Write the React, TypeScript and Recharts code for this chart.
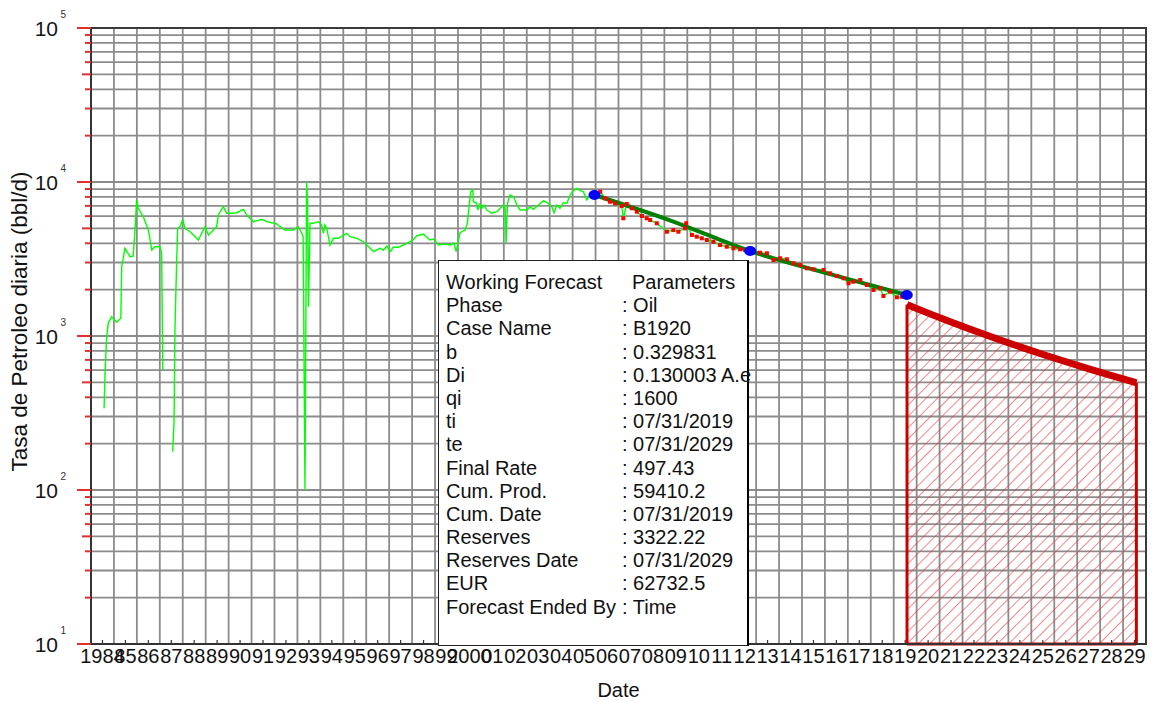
import React from "react";
import {
  ComposedChart,
  XAxis,
  YAxis,
  CartesianGrid,
  Line,
  Area,
  Scatter,
  ReferenceLine,
  ReferenceArea,
} from "recharts";

const FONT = "'Liberation Sans', Arial, sans-serif";

// ---------- axis ticks ----------
const yearTicks = [
  1984, 1985, 1986, 1987, 1988, 1989, 1990, 1991, 1992, 1993, 1994, 1995, 1996, 1997, 1998, 1999,
  2000, 2001, 2002, 2003, 2004, 2005, 2006, 2007, 2008, 2009, 2010, 2011, 2012, 2013, 2014, 2015,
  2016, 2017, 2018, 2019, 2020, 2021, 2022, 2023, 2024, 2025, 2026, 2027, 2028, 2029,
];
const halfYearTicks = yearTicks.map((y) => y + 0.5);
const decades = [10, 100, 1000, 10000];
const multipliers = [1, 2, 3, 4, 5, 6, 7, 8, 9];
const yTicks = [...decades.flatMap((d) => multipliers.map((m) => d * m)), 100000];
const X_MIN = 1984;
const X_MAX = 2030;
const Y_MIN = 10;
const Y_MAX = 100000;

// ---------- historical production (green line) ----------
const histYears = [
  1984.57, 1984.62, 1984.68, 1984.75, 1984.9, 1985.12, 1985.3, 1985.34, 1985.48, 1985.7, 1985.84,
  1985.92, 1985.99, 1986.06, 1986.28, 1986.5, 1986.65, 1986.79, 1987.01, 1987.08, 1987.13, 1987.3,
  1987.56, 1987.62, 1987.66, 1987.74, 1987.78, 1987.88, 1988.0, 1988.1, 1988.32, 1988.68, 1988.97,
  1989.12, 1989.26, 1989.48, 1989.55, 1989.77, 1989.92, 1990.14, 1990.35, 1990.64, 1990.79, 1991.08,
  1991.44, 1991.66, 1991.88, 1992.1, 1992.24, 1992.46, 1992.82, 1993.04, 1993.19, 1993.25, 1993.33,
  1993.4, 1993.44, 1993.48, 1993.55, 1993.7, 1993.91, 1994.06, 1994.13, 1994.2, 1994.28, 1994.42,
  1994.57, 1994.78, 1995.15, 1995.3, 1995.59, 1995.88, 1996.17, 1996.31, 1996.6, 1996.75, 1996.9,
  1997.04, 1997.18, 1997.4, 1997.62, 1997.91, 1998.06, 1998.2, 1998.49, 1998.64, 1998.78, 1998.93,
  1999.15, 1999.44, 1999.66, 1999.83, 1999.92, 1999.97, 2000.09, 2000.31, 2000.41, 2000.5, 2000.56,
  2000.65, 2000.67, 2000.82, 2000.86, 2000.96, 2001.04, 2001.14, 2001.26, 2001.47, 2001.69, 2001.84,
  2001.98, 2002.06, 2002.1, 2002.16, 2002.27, 2002.42, 2002.57, 2002.71, 2003.0, 2003.15, 2003.29,
  2003.51, 2003.73, 2003.94, 2004.09, 2004.19, 2004.31, 2004.45, 2004.6, 2004.75, 2004.89, 2005.03,
  2005.18, 2005.33, 2005.47, 2005.62, 2005.76, 2005.95,
];
const histRates: (number | null)[] = [
  339, 617, 966, 1209, 1334, 1227, 1303, 2818, 3711, 3273, 3300,
  4879, 7639, 6748, 5953, 4879, 3617, 3801, 3801, 3443, 601, null,
  177, 271, 1094, 3273, 5005, 5125, 5665, 5005, 4756, 4201, 5125,
  4528, 4756, 5125, 6106, 6914, 6264, 6264, 6319, 6648, 6106, 5524,
  5727, 5524, 5442, 5338, 5125, 4879, 4879, 5125, 4645, 4400, 100,
  10000, 7639, 1550, 5394, 5394, 5524, 5257, 4645, 5257, 5005, 3898,
  4309, 4309, 4645, 4414, 4309, 4095, 3711, 3527, 3711, 3617, 3841,
  3527, 3767, 3767, 3898, 4095, 4245, 4461, 4595, 4375, 4201, 4265,
  3898, 3957, 3898, 3998, 3527, 3801, 4687, 4879, 5394, 7272, 8650,
  8873, 7448, 7272, 6580, 7196, 6748, 7090, 6580, 6264, 6414, 6748,
  7090, 6748, 3998, 7272, 8234, 8026, 7090, 6580, 6580, 6914, 6648,
  7090, 7561, 7272, 6914, 6319, 7090, 6748, 7339, 7272, 8234, 8780,
  9102, 8780, 8650, 7639, 8234, 8234,
];

// ---------- production points used in the decline fit (red squares) ----------
const fitPtYears = [
  2006.2, 2006.42, 2006.63, 2006.85, 2007.14, 2007.21, 2007.36, 2007.58, 2007.8, 2008.02, 2008.23,
  2008.38, 2008.67, 2009.11, 2009.39, 2009.61, 2009.9, 2009.95, 2010.2, 2010.41, 2010.63, 2010.85,
  2011.14, 2011.43, 2011.72, 2012.01, 2012.3, 2012.52, 2012.9, 2013.17, 2013.47, 2013.76, 2014.05,
  2014.34, 2014.63, 2014.92, 2015.21, 2015.5, 2015.94, 2016.23, 2016.52, 2016.81, 2017.03, 2017.24,
  2017.54, 2017.83, 2018.12, 2018.41, 2018.55, 2018.84, 2019.14, 2019.36,
];
const fitPtRates = [
  8650, 7838, 7448, 7272, 6987, 5812, 7196, 6748, 6414, 6015, 5812,
  5665, 5394, 4756, 4879, 4756, 5005, 5394, 4528, 4414, 4309, 4201,
  4095, 3898, 3801, 3711, 3656, 3617, 3560, 3474, 3443, 3115, 3195,
  3148, 2966, 2891, 2752, 2711, 2683, 2553, 2453, 2370, 2199, 2253,
  2310, 2144, 1990, 2040, 1818, 1940, 1784, 1800,
];

// ---------- decline fit line (dark green) and its anchor points (blue) ----------
const fitYears = [2005.95, 2009.3, 2012.74, 2016.1, 2019.57];
const fitRates = [8234, 5600, 3565, 2553, 1846];
const anchorYears = [2005.95, 2012.74, 2019.57];
const anchorRates = [8234, 3565, 1846];

// ---------- forecast (red, hatched) ----------
const fcYears = [2019.58, 2020.58, 2021.58, 2022.58, 2023.58, 2024.58, 2025.58, 2026.58, 2027.58, 2028.58, 2029.58];
const fcRates = [1600, 1392, 1218, 1073, 949, 844, 753, 675, 608, 549, 497];

// ---------- parameter box ----------
const paramLabels = [
  "Working Forecast", "Phase", "Case Name", "b", "Di", "qi", "ti", "te", "Final Rate",
  "Cum. Prod.", "Cum. Date", "Reserves", "Reserves Date", "EUR", "Forecast Ended By",
];
const paramValues = [
  "Parameters", "Oil", "B1920", "0.329831", "0.130003 A.e", "1600", "07/31/2019", "07/31/2029",
  "497.43", "59410.2", "07/31/2019", "3322.22", "07/31/2029", "62732.5", "Time",
];

const zip = (xs: number[], ys: (number | null)[]) => xs.map((x, i) => ({ x, y: ys[i] }));
const histData = zip(histYears, histRates);
const fitPtData = zip(fitPtYears, fitPtRates);
const prodLineData = [...histData, ...fitPtData];
const fitData = zip(fitYears, fitRates);
const anchorData = zip(anchorYears, anchorRates);
const fcData = zip(fcYears, fcRates);
const fcFirst = fcData[0];
const fcLast = fcData[fcData.length - 1];

const YTick = (props: any) => {
  const { x, y, payload } = props;
  const v = payload.value as number;
  const exp = Math.floor(Math.log10(v) + 1e-9);
  const m = Math.round(v / Math.pow(10, exp));
  const isDecade = m === 1;
  const len = isDecade ? 14 : m === 5 ? 9 : 6;
  return (
    <g>
      <line x1={x - len} x2={x} y1={y} y2={y} stroke="#e03030" strokeWidth={2} />
      {isDecade && (
        <g>
          <text x={x - 33} y={y + 7.5} textAnchor="end" fontSize={21} fill="#151515" fontFamily={FONT}>
            10
          </text>
          <text x={x - 30.5} y={y - 10.5} textAnchor="start" fontSize={10} fill="#333" fontFamily={FONT}>
            {exp}
          </text>
        </g>
      )}
    </g>
  );
};

// Year labels sit centred in the middle of each year interval.
const XLabelTick = (props: any) => {
  const { x, y, payload, width } = props;
  const yr = Math.round(payload.value);
  const halfYearPx = (Number(width) || 0) / (X_MAX - X_MIN) / 2;
  const s = yr === 1984 || yr === 2000 ? String(yr) : String(yr % 100).padStart(2, "0");
  return (
    <text x={x + halfYearPx} y={y + 19} textAnchor="middle" fontSize={20} fill="#111" fontFamily={FONT}>
      {s}
    </text>
  );
};

const RedSquare = (props: any) => {
  const { cx, cy } = props;
  if (cx == null || cy == null) return null;
  return <rect x={cx - 2} y={cy - 2} width={4} height={4} fill="#ff0000" />;
};

const BlueDot = (props: any) => {
  const { cx, cy } = props;
  if (cx == null || cy == null) return null;
  return <ellipse cx={cx} cy={cy} rx={6} ry={5} fill="#0000ff" />;
};

export default function App() {
  return (
    <div
      style={{
        position: "absolute",
        left: 0,
        top: 0,
        width: 1157,
        height: 702,
        background: "#fff",
        fontFamily: FONT,
      }}
    >
      <ComposedChart width={1157} height={702} margin={{ top: 28, right: 11, bottom: 0, left: 0 }}>
        <defs>
          <pattern id="hatch" width="8" height="8" patternUnits="userSpaceOnUse" patternTransform="rotate(45)">
            <line x1="0" y1="0" x2="0" y2="8" stroke="#e23a3a" strokeWidth="1.2" />
          </pattern>
        </defs>
        <CartesianGrid stroke="#8c8c8c" strokeWidth={1.8} />
        <XAxis
          type="number"
          dataKey="x"
          domain={[X_MIN, X_MAX]}
          ticks={yearTicks}
          interval={0}
          allowDataOverflow
          height={58}
          tickSize={0}
          tickMargin={0}
          tickLine={false}
          axisLine={{ stroke: "#333", strokeWidth: 2 }}
          tick={<XLabelTick />}
        />
        <YAxis
          type="number"
          dataKey="y"
          scale="log"
          domain={[Y_MIN, Y_MAX]}
          ticks={yTicks}
          interval={0}
          allowDataOverflow
          width={91}
          tickSize={0}
          tickMargin={0}
          tickLine={false}
          axisLine={{ stroke: "#333", strokeWidth: 2 }}
          tick={<YTick />}
        />
        <Area
          data={fcData}
          dataKey="y"
          type="linear"
          baseValue={Y_MIN}
          fill="url(#hatch)"
          fillOpacity={1}
          stroke="none"
          isAnimationActive={false}
        />
        {halfYearTicks.map((t) => (
          <ReferenceLine
            key={"m" + t}
            segment={[
              { x: t, y: Y_MIN },
              { x: t, y: Y_MIN * 1.062 },
            ]}
            stroke="#333"
            strokeWidth={1.2}
          />
        ))}
        <ReferenceLine
          segment={[
            { x: fcFirst.x, y: Y_MIN },
            { x: fcFirst.x, y: fcFirst.y as number },
          ]}
          stroke="#cc0000"
          strokeWidth={3}
        />
        <ReferenceLine
          segment={[
            { x: fcLast.x, y: Y_MIN },
            { x: fcLast.x, y: fcLast.y as number },
          ]}
          stroke="#cc0000"
          strokeWidth={3}
        />
        <ReferenceLine
          segment={[
            { x: fcFirst.x, y: Y_MIN },
            { x: fcLast.x, y: Y_MIN },
          ]}
          stroke="#cc0000"
          strokeWidth={3}
        />
        <Line
          data={prodLineData}
          dataKey="y"
          type="linear"
          stroke="#00ff00"
          strokeWidth={1.4}
          dot={false}
          connectNulls={false}
          isAnimationActive={false}
        />
        <Line
          data={fitData}
          dataKey="y"
          type="monotone"
          stroke="#008000"
          strokeWidth={4}
          dot={false}
          isAnimationActive={false}
        />
        <Scatter data={fitPtData} shape={<RedSquare />} isAnimationActive={false} />
        <Line
          data={fcData}
          dataKey="y"
          type="monotone"
          stroke="#cc0000"
          strokeWidth={7}
          dot={false}
          isAnimationActive={false}
        />
        <Scatter data={anchorData} shape={<BlueDot />} isAnimationActive={false} />
        <ReferenceArea
          x1={X_MIN}
          x2={X_MAX}
          y1={Y_MIN}
          y2={Y_MAX}
          fill="none"
          fillOpacity={0}
          stroke="#3a3a3a"
          strokeWidth={2}
        />
        <text x={618.5} y={697} textAnchor="middle" fontSize={20} fill="#111" fontFamily={FONT}>
          Date
        </text>
        <text
          transform="translate(27,321.5) rotate(-90)"
          textAnchor="middle"
          fontSize={22.5}
          fill="#111"
          fontFamily={FONT}
        >
          Tasa de Petroleo diaria (bbl/d)
        </text>
      </ComposedChart>
      <div
        style={{
          position: "absolute",
          left: 438,
          top: 260,
          width: 311,
          height: 386,
          boxSizing: "border-box",
          background: "#fff",
          borderTop: "1px solid #222",
          borderLeft: "1px solid #222",
          borderBottom: "1px solid #222",
          borderRight: "2px solid #000",
          fontSize: 20,
          lineHeight: "23.2px",
          color: "#111",
          paddingTop: 10,
        }}
      >
        {paramLabels.map((lab, i) => (
          <div key={lab} style={{ position: "relative", height: 23.2, whiteSpace: "nowrap" }}>
            <span style={{ position: "absolute", left: 7 }}>{lab}</span>
            <span style={{ position: "absolute", left: i === 0 ? 193 : 183 }}>
              {i === 0 ? paramValues[i] : ": " + paramValues[i]}
            </span>
          </div>
        ))}
      </div>
    </div>
  );
}
